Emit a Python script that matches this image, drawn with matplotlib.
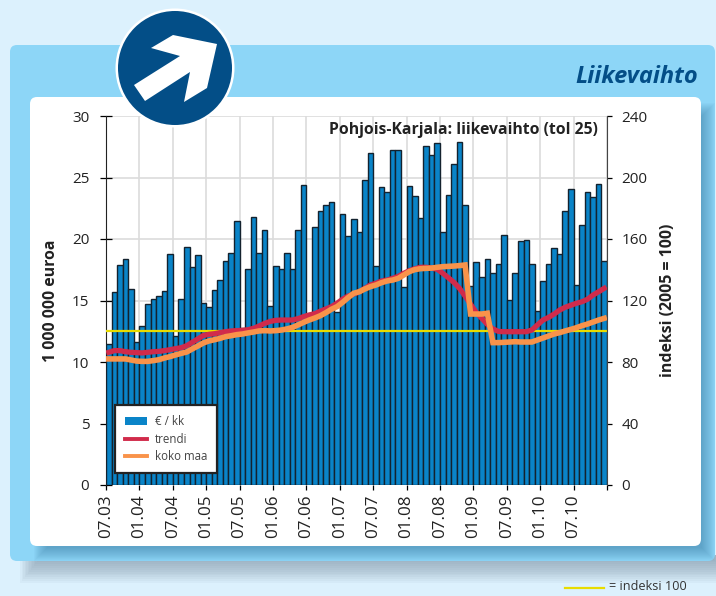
import matplotlib
matplotlib.use('Agg')
import matplotlib.pyplot as plt
from matplotlib.patches import FancyBboxPatch, Circle, Polygon, Rectangle
from matplotlib.lines import Line2D

plt.rcParams['font.family'] = ['Open Sans', 'DejaVu Sans']

# monthly turnover, million euro (07.03 ... 12.10)
turnover = [
    11.5, 15.7, 17.9, 18.35, 15.96, 11.65, 12.9, 14.7, 15.1, 15.4, 15.8, 18.75,
    12.15, 15.1, 19.35, 17.7, 18.7, 14.8, 14.5, 15.85, 16.7, 18.2, 18.9, 21.5,
    12.8, 17.6, 21.8, 18.9, 20.7, 14.55, 17.8, 17.55, 18.85, 17.55, 20.7, 24.4,
    13.7, 21.0, 22.25, 22.75, 23.0, 14.05, 22.0, 20.25, 21.65, 20.55, 24.8, 27.0,
    17.8, 24.2, 23.8, 27.2, 27.2, 16.1, 24.3, 23.5, 21.7, 27.6, 26.85, 27.8,
    20.55, 23.6, 26.1, 27.85, 22.8, 16.2, 18.1, 16.95, 18.4, 17.2, 17.95, 20.3,
    15.05, 17.2, 19.85, 19.9, 18.0, 14.15, 16.6, 18.0, 19.3, 18.75, 22.25, 24.1,
    16.3, 21.15, 23.8, 23.4, 24.45, 18.2,
]

# trend, index 2005 = 100
trendi = [
    86.3, 87.4, 87.4, 86.7, 86.3, 86.1, 85.9, 86.3, 86.7, 86.9, 87.4, 88.0,
    88.7, 89.3, 90.6, 92.8, 95.0, 97.3, 98.0, 98.4, 99.1, 99.7, 100.2, 100.4,
    100.6, 101.0, 101.9, 103.4, 105.1, 106.4, 107.1, 107.3, 107.3, 107.3, 108.2, 109.5,
    110.6, 111.4, 113.0, 114.5, 116.0, 118.2, 120.8, 122.9, 124.2, 125.7, 127.9, 130.1,
    131.2, 132.7, 133.3, 134.4, 135.7, 137.7, 139.4, 140.7, 141.6, 141.6, 141.1, 140.3,
    137.7, 134.8, 131.8, 127.9, 122.9, 117.5, 112.3, 108.4, 104.5, 101.5, 99.9, 99.7,
    99.7, 99.7, 99.7, 99.7, 100.8, 104.1, 107.3, 109.0, 111.2, 113.8, 115.6, 116.9,
    118.2, 119.2, 120.8, 123.6, 125.7, 127.9,
]

koko_maa = [
    82.0, 82.0, 82.0, 82.0, 81.3, 80.6, 80.4, 80.4, 80.9, 81.5, 82.6, 83.5,
    84.6, 85.6, 86.5, 88.5, 90.4, 92.4, 93.7, 94.5, 95.4, 96.5, 97.1, 97.8,
    98.2, 98.9, 99.5, 100.2, 100.4, 100.2, 100.4, 100.8, 101.5, 102.5, 104.1, 105.8,
    107.3, 108.6, 110.1, 112.1, 114.3, 116.0, 118.8, 121.9, 124.7, 125.7, 127.5, 129.0,
    130.1, 131.6, 132.7, 133.3, 134.4, 136.6, 138.8, 140.1, 140.7, 140.9, 141.1, 141.6,
    142.0, 142.2, 142.4, 142.7, 143.1, 111.2, 111.2, 111.2, 111.7, 92.6, 92.6, 92.8,
    93.0, 93.2, 93.0, 93.0, 93.0, 94.3, 95.6, 96.9, 98.2, 99.1, 100.2, 101.2,
    102.3, 103.6, 104.7, 106.0, 107.3, 108.4,
]

month_labels = ['07.03', '01.04', '07.04', '01.05', '07.05', '01.06', '07.06', '01.07',
                '07.07', '01.08', '07.08', '01.09', '07.09', '01.10', '07.10']
left_ticks = [0, 5, 10, 15, 20, 25, 30]
right_ticks = [0, 40, 80, 120, 160, 200, 240]

BG = '#dcf1fd'
CARD = '#8dd6f7'
NAVY = '#034e87'
BAR = '#0a84c8'
RED = '#d12b4b'
ORANGE = '#f9934a'
YELLOW = '#e8dc00'
TEXT = '#222222'

W, H = 716, 596
fig = plt.figure(figsize=(W / 100, H / 100), dpi=100, facecolor=BG)

# background panel in pixel coordinates
bg = fig.add_axes([0, 0, 1, 1])
bg.set_xlim(0, W)
bg.set_ylim(H, 0)
bg.axis('off')

# soft shadow under the card
for k in range(12):
    bg.add_patch(Rectangle((20 + k * 1.5, 555), W, 28 - 1.9 * k, fc='#70889a', ec='none', alpha=0.06, zorder=1))
bg.add_patch(FancyBboxPatch((10, 45), 705, 516, boxstyle='round,pad=0,rounding_size=7', fc=CARD, ec='none', zorder=2))

# shadow of the white panel
for k in range(14):
    bg.add_patch(Rectangle((34 + k, 103 + k), 681 - 2 * k, 458 - 2 * k, fc='#2f6f98', ec='none', alpha=0.04, zorder=3))
bg.add_patch(FancyBboxPatch((30, 97), 671, 449, boxstyle='round,pad=0,rounding_size=7', fc='white', ec='none', zorder=4))

bg.text(698, 77, 'Liikevaihto', color=NAVY, fontsize=17, fontweight='bold', fontstyle='italic',
        ha='right', va='center', zorder=5)

# key for the yellow line, below the card
bg.plot([565, 604], [588, 588], color=YELLOW, lw=1.6, zorder=5)
bg.text(609, 587, '= indeksi 100', color='#333333', fontsize=9.1, ha='left', va='center', zorder=5)

# bars
ax = fig.add_axes([106 / W, 1 - 485 / H, 501 / W, 369 / H])
ax.patch.set_alpha(0)
months = [i + 0.5 for i in range(len(turnover))]
tick_pos = [i * 6 for i in range(len(month_labels))]
ax.bar(months, turnover, width=1.0, color=BAR, edgecolor='#14222e', linewidth=1.0, zorder=3)
ax.set_xlim(0, 90)
ax.set_ylim(0, 30)
ax.set_xticks(tick_pos + [90])
ax.set_xticklabels(month_labels + [''], rotation=90, fontsize=12.3, color=TEXT)
ax.set_yticks(left_ticks)
ax.tick_params(axis='y', direction='inout', length=8, width=0.9, labelsize=11, labelcolor=TEXT, pad=8)
ax.tick_params(axis='x', direction='out', length=3.6, width=0.9, pad=3)
ax.grid(True, color='#dcdcdc', linewidth=1.2, zorder=0)
ax.set_axisbelow(True)
for side in ['top', 'bottom']:
    ax.spines[side].set_visible(False)
ax.spines['left'].set_color('#222222')
ax.spines['right'].set_visible(False)
ax.set_ylabel('1 000 000 euroa', fontsize=11.4, fontweight='bold', color=TEXT, labelpad=9)

# index lines on the right hand scale
ax2 = ax.twinx()
ax2.set_ylim(0, 240)
ax2.set_yticks(right_ticks)
ax2.tick_params(axis='y', direction='out', length=3.6, width=0.9, labelsize=11, labelcolor=TEXT, pad=7)
ax2.axhline(100, color=YELLOW, lw=1.6, zorder=2)
ax2.plot(months, trendi, color=RED, lw=3.8, solid_joinstyle='round', zorder=3)
ax2.plot(months, koko_maa, color=ORANGE, lw=4.0, solid_joinstyle='miter', zorder=4)
for side in ['top', 'bottom', 'left']:
    ax2.spines[side].set_visible(False)
ax2.spines['right'].set_color('#444444')
ax2.set_ylabel('indeksi (2005 = 100)', fontsize=11.4, fontweight='bold', color=TEXT, labelpad=9)

ax2.text(598, 130, 'Pohjois-Karjala: liikevaihto (tol 25)', transform=bg.transData,
         fontsize=11.3, fontweight='bold', color=TEXT, ha='right', va='center', zorder=6)

handles = [
    Rectangle((0, 0), 1, 1, fc=BAR, ec='none'),
    Line2D([0], [0], color=RED, lw=2.8),
    Line2D([0], [0], color=ORANGE, lw=2.8),
]
leg = ax2.legend(handles, ['€ / kk', 'trendi', 'koko maa'], loc='lower left',
                 bbox_to_anchor=(9 / 501, 12 / 369), borderaxespad=0, fancybox=False, framealpha=1,
                 edgecolor='#222222', fontsize=8.3, handlelength=1.9, handletextpad=0.7,
                 labelspacing=0.4, borderpad=0.85, labelcolor='#444444')
leg.get_frame().set_linewidth(1.6)
leg.set_zorder(10)

# badge with arrow
badge = fig.add_axes([0, 0, 1, 1])
badge.set_xlim(0, W)
badge.set_ylim(H, 0)
badge.axis('off')
badge.add_patch(Circle((175, 68), 59.5, fc='white', ec='none'))
badge.add_patch(Circle((175, 68), 57, fc=NAVY, ec='none'))
arrow = [(134, 85), (180, 56), (151, 48), (173, 35), (217, 44), (207, 88), (184, 102), (190, 72), (145, 101)]
badge.add_patch(Polygon(arrow, closed=True, fc='white', ec='none'))

assert len(turnover) == len(trendi) == len(koko_maa) == 90
fig.savefig('out.png', dpi=100, facecolor=BG)
